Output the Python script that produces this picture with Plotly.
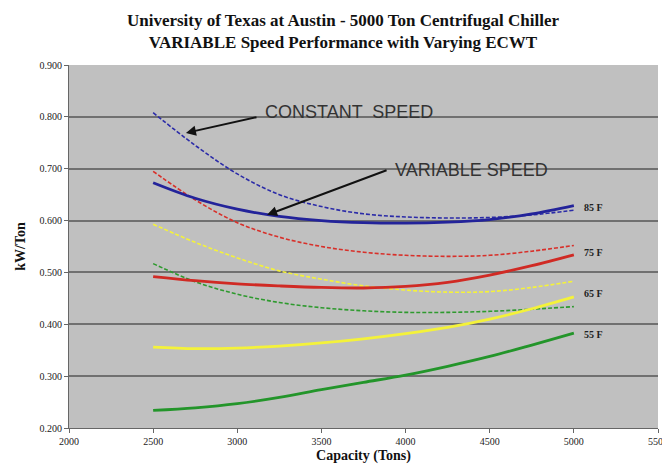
import plotly.graph_objects as go

capacity = [2500, 2750, 3000, 3250, 3500, 3750, 4000, 4250, 4500, 4750, 5000]

const_85 = [0.808, 0.745, 0.690, 0.650, 0.627, 0.613, 0.607, 0.605, 0.606, 0.611, 0.620]
var_85 = [0.673, 0.643, 0.622, 0.608, 0.600, 0.596, 0.595, 0.597, 0.602, 0.613, 0.629]
const_75 = [0.695, 0.640, 0.596, 0.568, 0.550, 0.539, 0.533, 0.531, 0.533, 0.541, 0.552]
var_75 = [0.492, 0.484, 0.478, 0.474, 0.471, 0.470, 0.473, 0.481, 0.495, 0.513, 0.534]
const_65 = [0.593, 0.558, 0.528, 0.503, 0.487, 0.474, 0.466, 0.462, 0.463, 0.471, 0.483]
var_65 = [0.356, 0.353, 0.354, 0.358, 0.364, 0.372, 0.382, 0.394, 0.410, 0.430, 0.453]
const_55 = [0.517, 0.482, 0.458, 0.442, 0.432, 0.426, 0.423, 0.423, 0.425, 0.429, 0.434]
var_55 = [0.234, 0.239, 0.247, 0.259, 0.274, 0.288, 0.302, 0.319, 0.338, 0.360, 0.383]

ecwt_labels = ["85 F", "75 F", "65 F", "55 F"]
label_y = [0.626, 0.538, 0.459, 0.380]

x_ticks = [2000, 2500, 3000, 3500, 4000, 4500, 5000, 5500]
y_ticks = [0.2, 0.3, 0.4, 0.5, 0.6, 0.7, 0.8, 0.9]

fig = go.Figure()

series = [
    (const_85, "#2b2ba8", "4px,2px", 1.6),
    (const_75, "#d8302a", "4px,2px", 1.6),
    (const_65, "#f4f23a", "4px,2px", 1.6),
    (const_55, "#2e9a2e", "4px,2px", 1.6),
    (var_85, "#23239a", "solid", 2.8),
    (var_75, "#d02a24", "solid", 2.8),
    (var_65, "#f4f23a", "solid", 2.8),
    (var_55, "#23952a", "solid", 2.8),
]
for ys, col, dash, w in series:
    fig.add_trace(go.Scatter(x=capacity, y=ys, mode="lines",
                             line=dict(color=col, dash=dash, width=w, shape="spline", smoothing=1.0),
                             showlegend=False, hoverinfo="skip"))

for lab, ly in zip(ecwt_labels, label_y):
    fig.add_annotation(x=5050, y=ly, text="<b>" + lab + "</b>", showarrow=False, xanchor="left",
                       font=dict(family="Liberation Serif", size=10, color="#222"))

fig.add_annotation(x=2695, y=0.769, ax=3123, ay=0.800, xref="x", yref="y",
                   axref="x", ayref="y", text="", showarrow=True, arrowhead=2,
                   arrowsize=1, arrowwidth=2, arrowcolor="#111")
fig.add_annotation(x=3150, y=0.809, text="CONSTANT  SPEED", showarrow=False,
                   xanchor="left", font=dict(family="Liberation Sans", size=18, color="#333"))
fig.add_annotation(x=3177, y=0.611, ax=3896, ay=0.698, xref="x", yref="y",
                   axref="x", ayref="y", text="", showarrow=True, arrowhead=2,
                   arrowsize=1, arrowwidth=2, arrowcolor="#111")
fig.add_annotation(x=3925, y=0.698, text="VARIABLE SPEED", showarrow=False,
                   xanchor="left", font=dict(family="Liberation Sans", size=18, color="#333"))

fig.update_layout(
    width=670, height=468,
    margin=dict(l=61, r=20, t=57, b=48, autoexpand=False),
    paper_bgcolor="white", plot_bgcolor="#c0c0c0",
    title=dict(text="<b>University of Texas at Austin - 5000 Ton Centrifugal Chiller<br>VARIABLE Speed Performance with Varying ECWT</b>",
               x=0.5, xanchor="center", yref="container", y=0.961, yanchor="top",
               font=dict(family="Liberation Serif", size=17, color="#111")),
    xaxis=dict(range=[2000, 5500], tickvals=x_ticks, ticktext=[str(v) for v in x_ticks],
               showgrid=False, zeroline=False, showline=True, linecolor="#666", linewidth=1,
               ticks="outside", ticklen=4, tickcolor="#666", automargin=False,
               tickfont=dict(family="Liberation Serif", size=10, color="#222"),
               title=dict(text="<b>Capacity (Tons)</b>", standoff=4,
                          font=dict(family="Liberation Serif", size=14, color="#111"))),
    yaxis=dict(range=[0.2, 0.9], tickvals=y_ticks, ticktext=[f"{v:.3f}" for v in y_ticks],
               showgrid=True, gridcolor="#707070", gridwidth=1.5, zeroline=False,
               showline=True, linecolor="#666", linewidth=1, automargin=False,
               ticks="outside", ticklen=4, tickcolor="#666",
               tickfont=dict(family="Liberation Serif", size=10, color="#222"),
               title=dict(text="<b>kW/Ton</b>", standoff=10,
                          font=dict(family="Liberation Serif", size=14, color="#111"))),
)

fig.write_html("out.html")
